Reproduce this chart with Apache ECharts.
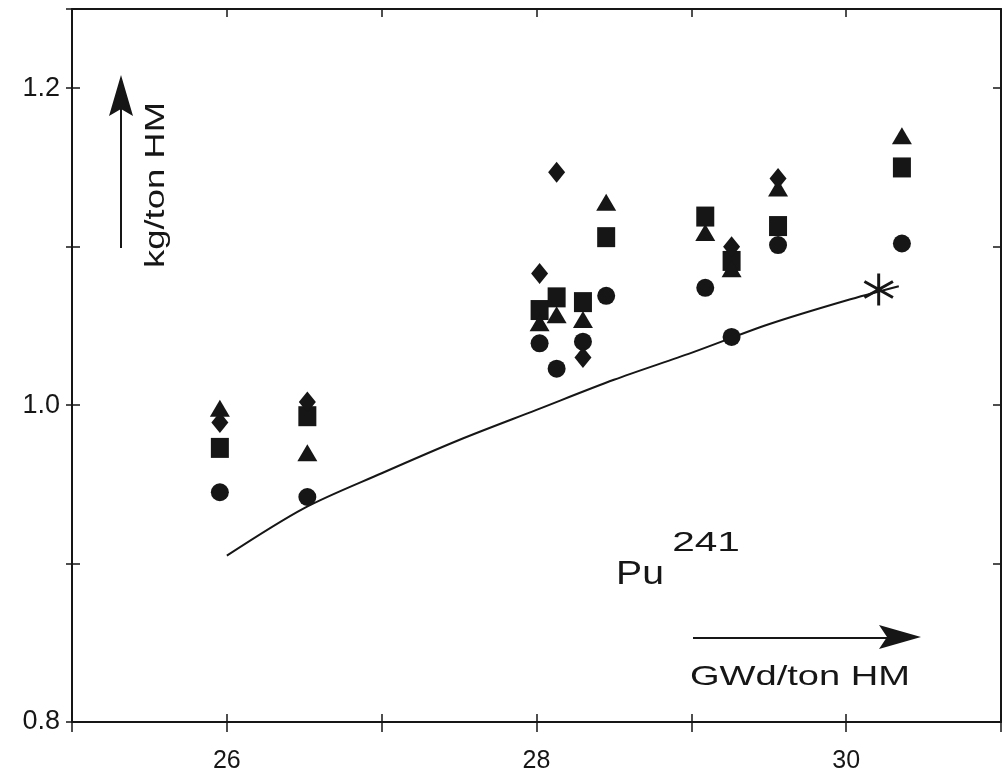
<!DOCTYPE html>
<html>
<head>
<meta charset="utf-8">
<script src="https://cdn.jsdelivr.net/npm/echarts@6/dist/echarts.min.js"></script>
<style>
  html, body { margin: 0; padding: 0; background: #fff; }
  #chart { width: 1004px; height: 782px; }
</style>
</head>
<body>
<div id="chart"></div>
<script>
// Burnup (GWd/ton HM) of the measured samples
const burnup = [25.955, 26.52, 28.02, 28.13, 28.30, 28.45, 29.09, 29.26, 29.56, 30.36];
// Pu-241 content (kg/ton HM), one array per measurement set
const circleVals   = [0.945, 0.942, 1.039, 1.023, 1.040, 1.069, 1.074, 1.043, 1.101, 1.102];
const squareVals   = [0.973, 0.993, 1.060, 1.068, 1.065, 1.106, 1.119, 1.091, 1.113, 1.150];
const triangleVals = [0.998, 0.970, 1.052, 1.057, 1.054, 1.128, 1.109, 1.086, 1.137, 1.170];
const diamondVals  = [0.989, 1.002, 1.083, 1.147, 1.030, null, null, 1.100, 1.143, null];
// Calculated curve
const calcBurnup = [26.0, 26.5, 27.0, 27.5, 28.0, 28.5, 29.0, 29.5, 30.0, 30.34];
const calcVals   = [0.905, 0.935, 0.957, 0.978, 0.997, 1.016, 1.033, 1.051, 1.066, 1.075];
// End-of-cycle calculated point
const starBurnup = [30.21];
const starVals   = [1.073];
// Tick labels
const xTickLabels = [26, 28, 30];
const yTickLabels = ['0.8', '1.0', '1.2'];

const INK = '#161616';

function pairs(xs, ys) {
  const out = [];
  xs.forEach((x, i) => { if (ys[i] != null) out.push([x, ys[i]]); });
  return out;
}

// Asterisk symbol made of three thin bars
function asteriskPath() {
  const L = 10, w = 0.9;
  let d = '';
  [90, 30, 150].forEach(deg => {
    const a = deg * Math.PI / 180, c = Math.cos(a), s = Math.sin(a);
    const p = [
      [L * c - w * s, L * s + w * c],
      [L * c + w * s, L * s - w * c],
      [-L * c + w * s, -L * s - w * c],
      [-L * c - w * s, -L * s + w * c]
    ];
    d += 'M' + p.map(q => q[0].toFixed(2) + ' ' + q[1].toFixed(2)).join(' L') + ' Z ';
  });
  return 'path://' + d.trim();
}

const axisLineStyle = { color: INK, width: 2 };
const tickStyle = { color: INK, width: 1.5 };
const labelFont = 'Liberation Sans';

const chart = echarts.init(document.getElementById('chart'), null, { renderer: 'canvas' });

const scatterBase = {
  type: 'scatter',
  xAxisIndex: 0,
  yAxisIndex: 0,
  itemStyle: { color: INK, opacity: 1 },
  emphasis: { disabled: true },
  z: 3
};

const option = {
  animation: false,
  backgroundColor: '#fff',
  grid: { left: 72, right: 2, top: 9, bottom: 60 },
  xAxis: [
    {
      type: 'value', position: 'bottom', min: 25, max: 31, interval: 1,
      axisLine: { show: true, lineStyle: axisLineStyle },
      axisTick: { show: true, inside: false, length: 10, lineStyle: tickStyle },
      splitLine: { show: false },
      axisLabel: {
        margin: 27, color: INK, fontSize: 25, fontFamily: labelFont,
        formatter: v => xTickLabels.indexOf(Math.round(v * 100) / 100) >= 0 ? String(Math.round(v)) : ''
      }
    },
    {
      type: 'value', position: 'bottom', min: 25, max: 31, interval: 1,
      axisLine: { show: false },
      axisTick: { show: true, inside: true, length: 8, lineStyle: tickStyle },
      splitLine: { show: false }, axisLabel: { show: false }
    },
    {
      type: 'value', position: 'top', min: 25, max: 31, interval: 1,
      axisLine: { show: true, lineStyle: axisLineStyle },
      axisTick: { show: true, inside: true, length: 8, lineStyle: tickStyle },
      splitLine: { show: false }, axisLabel: { show: false }
    }
  ],
  yAxis: [
    {
      type: 'value', position: 'left', min: 0.8, max: 1.25, interval: 0.1,
      axisLine: { show: true, lineStyle: axisLineStyle },
      axisTick: { show: true, inside: false, length: 6, lineStyle: tickStyle },
      splitLine: { show: false },
      axisLabel: {
        margin: 12, color: INK, fontSize: 27, fontFamily: labelFont,
        formatter: v => {
          const s = (Math.round(v * 100) / 100).toFixed(1);
          return yTickLabels.indexOf(s) >= 0 ? s : '';
        }
      }
    },
    {
      type: 'value', position: 'left', min: 0.8, max: 1.25, interval: 0.1,
      axisLine: { show: false },
      axisTick: { show: true, inside: true, length: 8, lineStyle: tickStyle },
      splitLine: { show: false }, axisLabel: { show: false }
    },
    {
      type: 'value', position: 'right', min: 0.8, max: 1.25, interval: 0.1,
      axisLine: { show: true, lineStyle: axisLineStyle },
      axisTick: { show: true, inside: true, length: 8, lineStyle: tickStyle },
      splitLine: { show: false }, axisLabel: { show: false }
    }
  ],
  series: [
    {
      type: 'line', xAxisIndex: 0, yAxisIndex: 0,
      data: pairs(calcBurnup, calcVals),
      smooth: 0.3, symbol: 'none',
      lineStyle: { color: INK, width: 2 },
      emphasis: { disabled: true }, z: 2
    },
    Object.assign({}, scatterBase, { symbol: 'circle', symbolSize: 18, data: pairs(burnup, circleVals) }),
    Object.assign({}, scatterBase, { symbol: 'rect', symbolSize: [18, 20], data: pairs(burnup, squareVals) }),
    Object.assign({}, scatterBase, { symbol: 'triangle', symbolSize: [20, 17], data: pairs(burnup, triangleVals) }),
    Object.assign({}, scatterBase, { symbol: 'diamond', symbolSize: [17, 21], data: pairs(burnup, diamondVals) }),
    Object.assign({}, scatterBase, { symbol: asteriskPath(), symbolSize: [30, 32], data: pairs(starBurnup, starVals) })
  ],
  graphic: [
    // y-axis quantity arrow
    { type: 'line', shape: { x1: 121, y1: 248, x2: 121, y2: 108 }, style: { stroke: INK, lineWidth: 2 }, z: 10 },
    { type: 'polygon', shape: { points: [[121, 75], [133, 116], [121, 109], [109, 116]] }, style: { fill: INK }, z: 10 },
    {
      type: 'text', x: 157, y: 185, rotation: Math.PI / 2, scaleX: 1.35,
      style: { text: 'kg/ton HM', fontSize: 27, fontFamily: labelFont, fill: INK, align: 'center', verticalAlign: 'middle' },
      z: 10
    },
    // x-axis quantity arrow
    { type: 'line', shape: { x1: 693, y1: 638, x2: 888, y2: 638 }, style: { stroke: INK, lineWidth: 2 }, z: 10 },
    { type: 'polygon', shape: { points: [[921, 637], [879, 625], [887, 637], [879, 649]] }, style: { fill: INK }, z: 10 },
    {
      type: 'text', x: 800, y: 677, scaleX: 1.36,
      style: { text: 'GWd/ton HM', fontSize: 28, fontFamily: labelFont, fill: INK, align: 'center', verticalAlign: 'middle' },
      z: 10
    },
    // nuclide label
    {
      type: 'text', x: 640, y: 575, scaleX: 1.15,
      style: { text: 'Pu', fontSize: 34, fontFamily: labelFont, fill: INK, align: 'center', verticalAlign: 'middle' },
      z: 10
    },
    {
      type: 'text', x: 706, y: 543, scaleX: 1.45,
      style: { text: '241', fontSize: 28, fontFamily: labelFont, fill: INK, align: 'center', verticalAlign: 'middle' },
      z: 10
    }
  ]
};

chart.setOption(option);
</script>
</body>
</html>
